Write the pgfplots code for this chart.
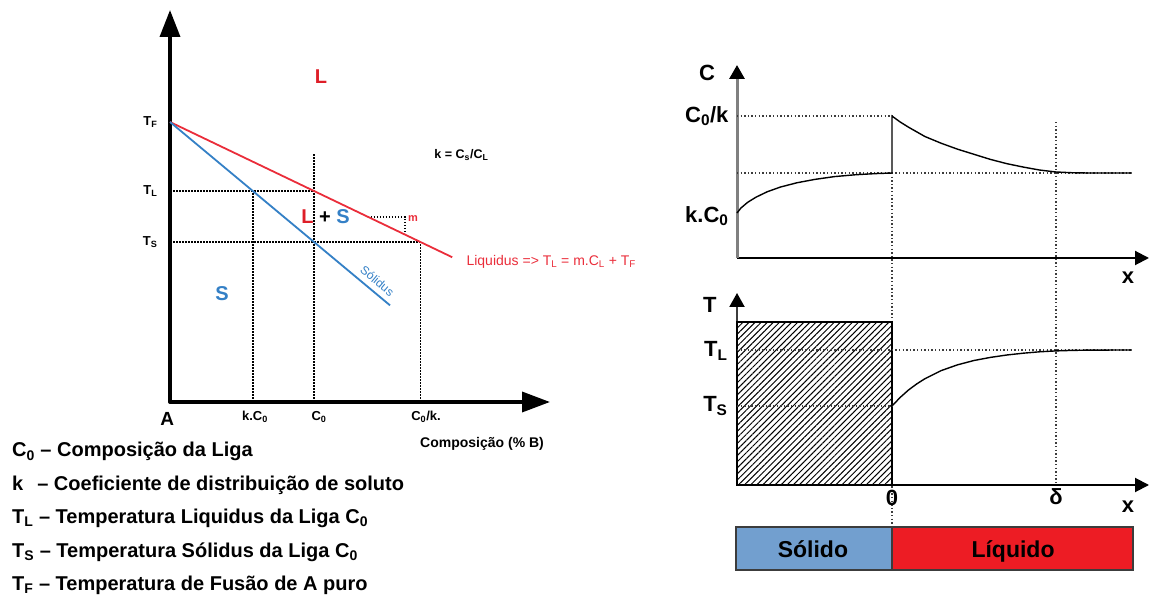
\documentclass[border=0pt]{standalone}
\usepackage{pgfplots}
\pgfplotsset{compat=1.18}
\usepackage{pgfplotstable}
\usepackage{fontspec}
\setmainfont{Liberation Sans}
\usetikzlibrary{arrows.meta,patterns.meta}

\definecolor{liqred}{RGB}{234,45,58}
\definecolor{solblue}{RGB}{52,128,198}
\definecolor{lblred}{RGB}{222,30,40}
\definecolor{barblue}{RGB}{114,159,207}
\definecolor{barred}{RGB}{237,28,36}
\definecolor{dotgray}{RGB}{60,60,60}
\definecolor{axgray}{RGB}{128,128,128}

\newcommand\fs[1]{\fontsize{#1}{#1}\selectfont}
\newcommand\lo[1]{\textsubscript{#1}}

% Phase diagram: k = 0.575, C0 = 1, T_F = 280, liquidus slope m = -69
\pgfplotstableread{
c T
0 280
1.96 144.76
}\liquidus
\pgfplotstableread{
c T
0 280
1.528 96.64
}\solidus

% Solute profile across the interface (x = 0 interface, x = 1 boundary layer delta)
\pgfplotstableread{
x C
-0.945 0.53
-0.92 0.59
-0.88 0.655
-0.83 0.715
-0.76 0.78
-0.68 0.835
-0.58 0.885
-0.47 0.925
-0.35 0.958
-0.22 0.98
-0.10 0.993
0 1.0
0 1.67
0.05 1.60
0.10 1.54
0.20 1.43
0.30 1.35
0.40 1.28
0.50 1.22
0.60 1.16
0.70 1.11
0.80 1.07
0.90 1.035
1.00 1.012
1.10 1.003
1.20 1.0
1.463 1.0
}\concprofile

% Liquidus temperature ahead of the interface
\pgfplotstableread{
x T
0 0.79
0.05 0.876
0.10 0.949
0.15 1.01
0.20 1.062
0.30 1.144
0.40 1.202
0.50 1.245
0.60 1.276
0.70 1.300
0.80 1.318
0.90 1.332
1.00 1.341
1.10 1.346
1.20 1.349
1.463 1.35
}\tempprofile

\tikzset{
  phdot/.style={black, line width=1.5pt, dash pattern=on 1.5pt off 1.5pt},
  rdot/.style={dotgray, line width=1.4pt, dash pattern=on 1.4pt off 2.2pt},
}

\begin{document}
\begin{tikzpicture}
\path[use as bounding box] (0pt,0pt) rectangle (1150pt,597pt);

% ---------------- phase diagram ----------------
\begin{axis}[
  at={(170pt,195pt)}, anchor=south west,
  scale only axis, width=380pt, height=392pt,
  xmin=0, xmax=2.639, ymin=0, ymax=392,
  axis lines=left,
  xtick=\empty, ytick=\empty,
  x axis line style={line width=3.5pt, line cap=round, -{Triangle[length=28pt,width=20pt]}},
  y axis line style={line width=3.5pt, line cap=round, -{Triangle[length=27pt,width=20pt]}},
  clip=false,
]
\addplot[phdot] coordinates {(0,211) (1,211)};
\addplot[phdot] coordinates {(0,160) (1.739,160)};
\addplot[phdot] coordinates {(0.575,0) (0.575,211)};
\addplot[phdot] coordinates {(1,0) (1,249)};
\addplot[phdot] coordinates {(1.739,0) (1.739,160)};
\addplot[phdot] coordinates {(1.375,185.1) (1.632,185.1) (1.632,167.4)};
\addplot[liqred, line width=1.8pt] table[x=c,y=T] {\liquidus};
\addplot[solblue, line width=1.8pt] table[x=c,y=T] {\solidus};

\node[anchor=east, xshift=-9pt, font=\bfseries\fs{13}] at (axis cs:0,280) {T\lo{F}};
\node[anchor=east, xshift=-9pt, font=\bfseries\fs{13}] at (axis cs:0,211) {T\lo{L}};
\node[anchor=east, xshift=-9pt, font=\bfseries\fs{13}] at (axis cs:0,160) {T\lo{S}};

\node[font=\bfseries\fs{13}] at (axis cs:0.59,-15) {k.C\lo{0}};
\node[font=\bfseries\fs{13}] at (axis cs:1.035,-15) {C\lo{0}};
\node[font=\bfseries\fs{13}] at (axis cs:1.778,-15) {C\lo{0}/k.};
\node[font=\bfseries\fs{19}] at (axis cs:-0.02,-17) {A};
\node[font=\bfseries\fs{14}] at (axis cs:2.167,-42) {Composição (\% B)};

\node[font=\bfseries\fs{20}, text=lblred] at (axis cs:1.049,325) {L};
\node[font=\bfseries\fs{20}] at (axis cs:1.08,185) {\textcolor{lblred}{L} + \textcolor{solblue}{S}};
\node[font=\bfseries\fs{20}, text=solblue] at (axis cs:0.361,108) {S};
\node[font=\fs{12}, text=solblue, rotate=-39.8, inner sep=1pt] at (axis cs:1.44,121) {Sólidus};
\node[anchor=west, font=\fs{14}, text=liqred] at (axis cs:2.035,140)
  {Liquidus => T\lo{L} = m.C\lo{L} + T\lo{F}};
\node[anchor=west, font=\bfseries\fs{12.5}] at (axis cs:1.812,247) {k = C\lo{s}/C\lo{L}};
\node[font=\bfseries\fs{11}, text=liqred] at (axis cs:1.688,183) {m};
\end{axis}

% ---------------- legend of symbols ----------------
\begin{scope}[every node/.style={anchor=base west, font=\bfseries\fs{20}, inner sep=0pt}]
\node at (12pt,140pt) {C\lo{0} – Composição da Liga};
\node at (12pt,107pt) {k\hspace{0.7em}– Coeficiente de distribuição de soluto};
\node at (12pt,73.5pt) {T\lo{L} – Temperatura Liquidus da Liga C\lo{0}};
\node at (12pt,40pt) {T\lo{S} – Temperatura Sólidus da Liga C\lo{0}};
\node at (12pt,7pt) {T\lo{F} – Temperatura de Fusão de A puro};
\end{scope}

% ---------------- solute profile ----------------
\begin{axis}[
  at={(737pt,339pt)}, anchor=south west,
  scale only axis, width=412pt, height=193pt,
  xmin=-0.945, xmax=1.567, ymin=0, ymax=2.271,
  axis lines=left,
  xtick=\empty, ytick=\empty,
  x axis line style={line width=2pt, black, -{Triangle[length=14pt,width=14pt]}},
  y axis line style={line width=3pt, axgray, -{Triangle[length=14pt,width=15pt,color=black]}},
  clip=false,
]
\addplot[rdot] coordinates {(-0.945,1.67) (0,1.67)};
\addplot[rdot] coordinates {(-0.945,1) (1.463,1)};
\addplot[rdot] coordinates {(0,1) (0,-3.165)};
\addplot[rdot] coordinates {(1,1.6) (1,-2.67)};
\addplot[black, line width=1.4pt] table[x=x,y=C] {\concprofile};

\node[font=\bfseries\fs{22}] at (axis cs:-1.128,2.176) {C};
\node[anchor=east, xshift=-5pt, font=\bfseries\fs{22}] at (axis cs:-0.945,1.67) {C\lo{0}/k};
\node[anchor=east, xshift=-5pt, yshift=-3pt, font=\bfseries\fs{22}] at (axis cs:-0.945,0.53) {k.C\lo{0}};
\node[font=\bfseries\fs{22}] at (axis cs:1.439,-0.235) {x};
\end{axis}

% ---------------- temperature profile ----------------
\begin{axis}[
  at={(737pt,112pt)}, anchor=south west,
  scale only axis, width=412pt, height=192pt,
  xmin=-0.945, xmax=1.567, ymin=0, ymax=1.92,
  axis lines=left,
  xtick=\empty, ytick=\empty,
  x axis line style={line width=2pt, black, -{Triangle[length=14pt,width=14pt]}},
  y axis line style={line width=2pt, dotgray, -{Triangle[length=14pt,width=15pt,color=black]}},
  clip=false,
]
\addplot[draw=black, line width=1.5pt,
  pattern={Lines[angle=45,distance=4.3pt,line width=1pt]}]
  coordinates {(-0.945,0) (-0.945,1.63) (0,1.63) (0,0)} --cycle;
\addplot[rdot] coordinates {(-0.945,1.35) (1.463,1.35)};
\addplot[rdot] coordinates {(-0.945,0.79) (0,0.79)};
\addplot[black, line width=1.4pt] table[x=x,y=T] {\tempprofile};

% solid / liquid strip
\addplot[fill=barblue, draw=dotgray, line width=1.5pt]
  coordinates {(-0.951,-0.42) (-0.951,-0.85) (0,-0.85) (0,-0.42)} --cycle;
\addplot[fill=barred, draw=dotgray, line width=1.5pt]
  coordinates {(0,-0.42) (0,-0.85) (1.47,-0.85) (1.47,-0.42)} --cycle;
\node[anchor=base, font=\bfseries\fs{23}] at (axis cs:-0.482,-0.72) {Sólido};
\node[anchor=base, font=\bfseries\fs{23}] at (axis cs:0.738,-0.72) {Líquido};

\node[font=\bfseries\fs{22}] at (axis cs:-1.11,1.80) {T};
\node[anchor=base east, xshift=-6pt, font=\bfseries\fs{22}] at (axis cs:-0.945,1.28) {T\lo{L}};
\node[anchor=base east, xshift=-6pt, font=\bfseries\fs{22}] at (axis cs:-0.945,0.73) {T\lo{S}};
\node[font=\bfseries\fs{22}] at (axis cs:0,-0.13) {0};
\node[font=\bfseries\fs{22}] at (axis cs:1,-0.12) {δ};
\node[font=\bfseries\fs{22}] at (axis cs:1.439,-0.22) {x};
\end{axis}
\end{tikzpicture}
\end{document}
